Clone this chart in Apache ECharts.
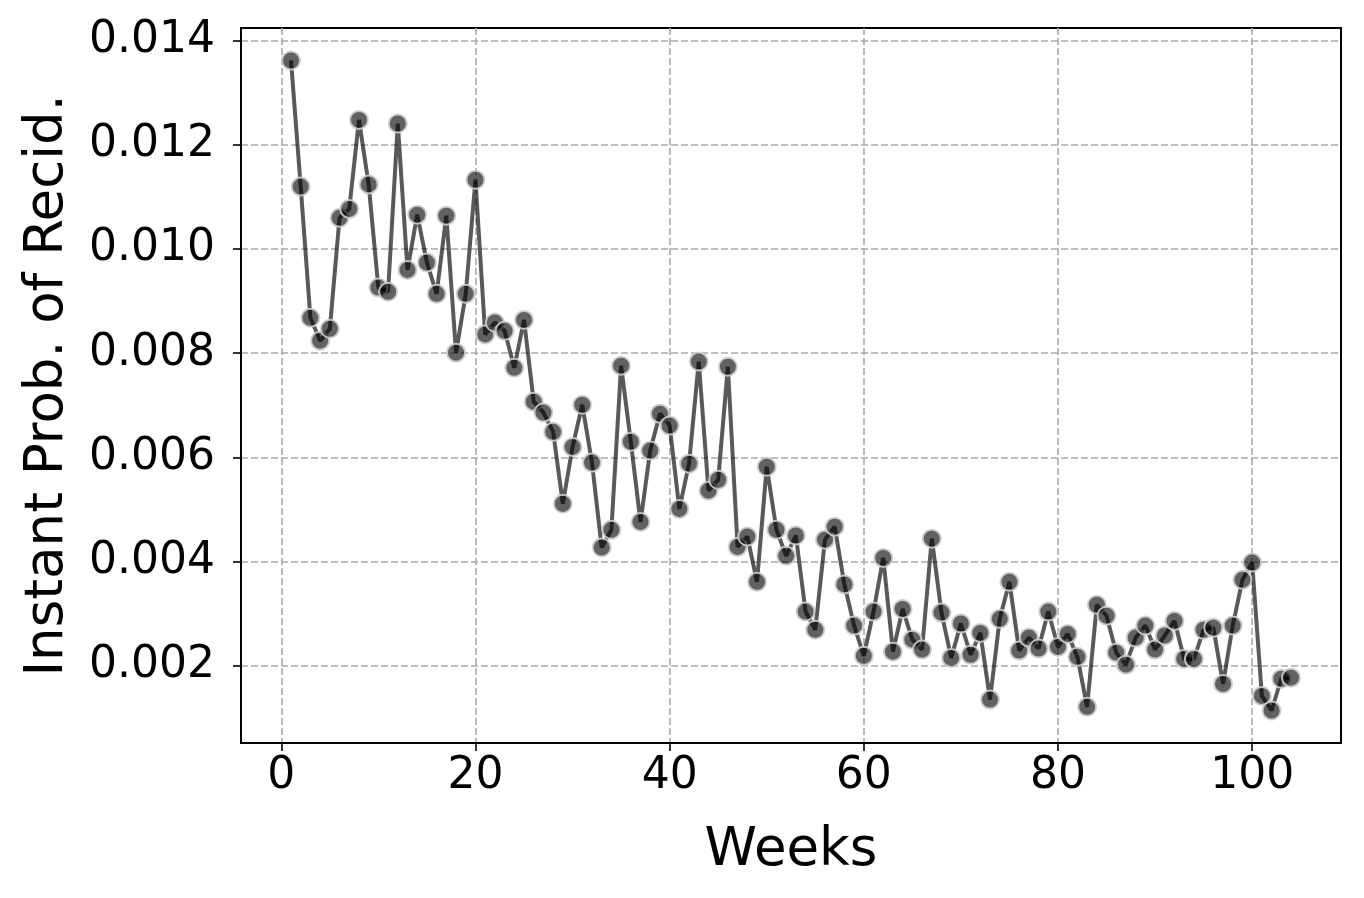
<!DOCTYPE html>
<html>
<head>
<meta charset="utf-8">
<script src="https://cdn.jsdelivr.net/npm/echarts@6/dist/echarts.min.js"></script>
<style>html,body{margin:0;padding:0;background:#fff}#c{width:1364px;height:898px}</style>
</head>
<body>
<div id="c"></div>
<script>
const weeks = [1,2,3,4,5,6,7,8,9,10,11,12,13,14,15,16,17,18,19,20,21,22,23,24,25,26,27,28,29,30,31,32,33,34,35,36,37,38,39,40,41,42,43,44,45,46,47,48,49,50,51,52,53,54,55,56,57,58,59,60,61,62,63,64,65,66,67,68,69,70,71,72,73,74,75,76,77,78,79,80,81,82,83,84,85,86,87,88,89,90,91,92,93,94,95,96,97,98,99,100,101,102,103,104];
const probRecid = [
0.01362,0.0112,0.00868,0.00824,0.00847,0.0106,0.01077,0.01248,0.01124,0.00926,
0.00918,0.01241,0.0096,0.01066,0.00974,0.00914,0.01064,0.00801,0.00914,0.01133,
0.00836,0.00859,0.00843,0.00772,0.00864,0.00707,0.00686,0.00649,0.00511,0.0062,
0.00701,0.0059,0.00427,0.00461,0.00776,0.0063,0.00476,0.00613,0.00684,0.00661,
0.00501,0.00588,0.00784,0.00536,0.00557,0.00774,0.00428,0.00448,0.00361,0.00582,
0.00461,0.00411,0.0045,0.00304,0.00269,0.00442,0.00467,0.00356,0.00277,0.00219,
0.00304,0.00407,0.00227,0.00309,0.0025,0.00231,0.00444,0.00302,0.00215,0.00281,
0.00221,0.00263,0.00135,0.0029,0.00361,0.00229,0.00254,0.00233,0.00304,0.00236,
0.00261,0.00217,0.00121,0.00317,0.00296,0.00225,0.00202,0.00254,0.00277,0.00231,
0.00258,0.00286,0.00213,0.00213,0.00269,0.00273,0.00165,0.00277,0.00365,0.00398,
0.00142,0.00114,0.00175,0.00177];
const xTicks = [0,20,40,60,80,100];
const yTicks = [0.002,0.004,0.006,0.008,0.010,0.012,0.014];

const chart = echarts.init(document.getElementById('c'), null, {renderer:'canvas'});
const font = 'DejaVu Sans';
const gridLine = {show:true, lineStyle:{color:'#aaaaaa', width:1.6, type:[7,3]}};
chart.setOption({
  animation:false,
  backgroundColor:'#fff',
  grid:{left:241, right:23, top:28, bottom:155, show:true, borderColor:'#000', borderWidth:2, containLabel:false},
  xAxis:{
    type:'value', min:-4.15, max:109.15,
    name:'Weeks', nameLocation:'middle', nameGap:82,
    nameTextStyle:{fontFamily:font, fontSize:53, color:'#000'},
    axisLine:{show:true, onZero:false, lineStyle:{color:'#000', width:2}},
    axisTick:{show:true, length:8, lineStyle:{color:'#000', width:1.6}, customValues:xTicks},
    axisLabel:{fontFamily:font, fontSize:44, color:'#000', margin:12, customValues:xTicks},
    splitLine:gridLine
  },
  yAxis:{
    type:'value', min:0.000516, max:0.014244,
    name:'Instant Prob. of Recid.', nameLocation:'middle', nameGap:166, nameRotate:90,
    nameTextStyle:{fontFamily:font, fontSize:53, color:'#000'},
    axisLine:{show:true, onZero:false, lineStyle:{color:'#000', width:2}},
    axisTick:{show:true, length:8, lineStyle:{color:'#000', width:1.6}, customValues:yTicks},
    axisLabel:{fontFamily:font, fontSize:44, color:'#000', margin:26, customValues:yTicks,
      formatter:function(v){return v.toFixed(3);}},
    splitLine:gridLine
  },
  series:[{
    type:'line',
    data:weeks.map((w,i)=>[w, probRecid[i]]),
    symbol:'circle', symbolSize:18,
    lineStyle:{color:'rgba(0,0,0,0.65)', width:4},
    itemStyle:{color:'rgba(0,0,0,0.62)', borderColor:'rgba(205,205,205,0.9)', borderWidth:2},
    z:3
  }]
});
</script>
</body>
</html>
